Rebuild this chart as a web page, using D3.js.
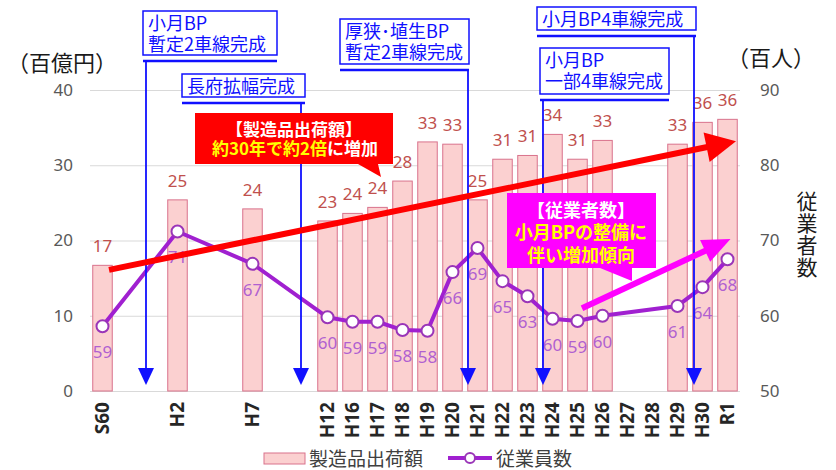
<!DOCTYPE html>
<html>
<head>
<meta charset="utf-8">
<script src="https://cdn.jsdelivr.net/npm/d3@7"></script>
<style>
    body { margin: 0; background: #fff; }
    svg { font-family: 'Noto Sans CJK JP', 'Noto Sans', sans-serif; }
</style>
</head>
<body>
<div id="chart"></div>
<script>
// categories (blank slots keep the uneven year spacing of the original)
const categories = ['S60', '', '', 'H2', '', '', 'H7', '', '', 'H12', 'H16', 'H17', 'H18', 'H19', 'H20',
    'H21', 'H22', 'H23', 'H24', 'H25', 'H26', 'H27', 'H28', 'H29', 'H30', 'R1'];

// 製造品出荷額 (百億円)
const shipments = [16.7, null, null, 25.4, null, null, 24.2, null, null, 22.6, 23.6, 24.4, 27.9, 33.1, 32.8,
    25.4, 30.8, 31.3, 34.1, 30.8, 33.3, null, null, 32.8, 35.7, 36.1];

// 従業員数 (百人)
const employees = [58.6, null, null, 71.2, null, null, 66.9, null, null, 59.8, 59.2, 59.2, 58.1, 58.0, 65.8,
    69.0, 64.6, 62.6, 59.6, 59.3, 60.0, null, null, 61.3, 63.8, 67.5];

const leftTicks = [0, 10, 20, 30, 40];
const rightTicks = [50, 60, 70, 80, 90];

// road milestones: label lines and where the arrow drops (slot index)
const milestones = [
    { lines: ['小月BP', '暫定2車線完成'], at: 1.74 },
    { lines: ['長府拡幅完成'], at: 7.94 },
    { lines: ['厚狭･埴生BP', '暫定2車線完成'], at: 14.62 },
    { lines: ['小月BP4車線完成'], at: 23.66 },
    { lines: ['小月BP', '一部4車線完成'], at: 17.62 }
];
// box layout for each milestone [x, y, w, h]
const milestoneBoxes = [[143, 11, 134, 44], [182, 74, 123, 23], [340, 19, 129, 45], [537, 7, 159, 23], [540, 48, 129, 46]];

// trend arrows: [slot, value] pairs
const shipTrend = [[0.26, 16.1], [25.34, 33.2]];   // left axis
const empTrend = [[19.18, 61.0], [25.12, 70.2]];    // right axis

// ******************************* //
// SETUP
// ******************************* //
const W = 836, H = 470;
const svg = d3.select('#chart').append('svg').attr('width', W).attr('height', H);

const x = d3.scaleBand()
    .domain(d3.range(categories.length))
    .range([90, 740])
    .paddingInner(0.22)
    .paddingOuter(0.11);
const xi = d3.scaleLinear().domain([-0.5, categories.length - 0.5]).range([90, 740]);
const yL = d3.scaleLinear().domain([0, 40]).range([391, 90]);
const yR = d3.scaleLinear().domain([50, 90]).range([391, 90]);

// GRID
svg.append('g')
    .attr('transform', 'translate(90,0)')
    .call(d3.axisLeft(yL).tickValues(leftTicks).tickSize(-650).tickFormat(''))
    .call(g => g.select('.domain').remove())
    .call(g => g.selectAll('line').attr('stroke', '#d9d9d9'));

// LEFT AXIS
svg.append('g')
    .attr('transform', 'translate(90,0)')
    .call(d3.axisLeft(yL).tickValues(leftTicks).tickSize(0).tickPadding(17))
    .call(g => g.select('.domain').remove())
    .call(g => g.selectAll('text').attr('font-size', 17).attr('fill', '#595959').attr('font-family', "'Noto Sans', sans-serif"));

// RIGHT AXIS
svg.append('g')
    .attr('transform', 'translate(740,0)')
    .call(d3.axisRight(yR).tickValues(rightTicks).tickSize(0).tickPadding(20))
    .call(g => g.select('.domain').remove())
    .call(g => g.selectAll('text').attr('font-size', 17).attr('fill', '#595959').attr('font-family', "'Noto Sans', sans-serif"));

// X AXIS
svg.append('g')
    .attr('transform', 'translate(0,391)')
    .call(d3.axisBottom(x).tickSize(0).tickFormat(i => categories[i]))
    .call(g => g.select('.domain').remove())
    .call(g => g.selectAll('text')
        .attr('transform', 'rotate(-90)')
        .attr('text-anchor', 'end')
        .attr('x', -11).attr('y', 0).attr('dy', '0.35em')
        .attr('font-size', 19).attr('font-weight', 'bold').attr('fill', '#262626')
        .attr('font-family', "'Liberation Sans Narrow', 'Noto Sans', sans-serif"));

// AXIS TITLES
svg.append('text').attr('x', 7).attr('y', 71).attr('font-size', 22).attr('fill', '#1a1a1a').text('（百億円）');
svg.append('text').attr('x', 727).attr('y', 66).attr('font-size', 22).attr('fill', '#1a1a1a').text('（百人）');
svg.append('text')
    .attr('x', 807).attr('y', 235)
    .attr('font-size', 21).attr('fill', '#1a1a1a').attr('text-anchor', 'middle')
    .style('writing-mode', 'vertical-rl').style('text-orientation', 'upright')
    .attr('letter-spacing', 1)
    .text('従業者数');

// BARS
const barData = shipments.map((v, i) => ({ i, v })).filter(d => d.v !== null);
svg.append('g').selectAll('rect').data(barData).join('rect')
    .attr('x', d => x(d.i)).attr('width', x.bandwidth())
    .attr('y', d => yL(d.v)).attr('height', d => yL(0) - yL(d.v))
    .attr('fill', '#fbd0d0').attr('stroke', '#d9728c').attr('stroke-width', 1);

svg.append('g').selectAll('text').data(barData).join('text')
    .attr('x', d => x(d.i) + x.bandwidth() / 2).attr('y', d => yL(d.v) - 13)
    .attr('text-anchor', 'middle').attr('font-size', 17).attr('fill', '#c0504d')
    .attr('font-family', "'Noto Sans', sans-serif")
    .text(d => d3.format('.0f')(d.v));

// LINE
const empData = employees.map((v, i) => ({ i, v })).filter(d => d.v !== null);
const line = d3.line().x(d => x(d.i) + x.bandwidth() / 2).y(d => yR(d.v));
svg.append('path').datum(empData).attr('d', line)
    .attr('fill', 'none').attr('stroke', '#a020d0').attr('stroke-width', 4).attr('stroke-linejoin', 'round');
svg.append('g').selectAll('circle').data(empData).join('circle')
    .attr('cx', d => x(d.i) + x.bandwidth() / 2).attr('cy', d => yR(d.v)).attr('r', 6)
    .attr('fill', '#fff').attr('stroke', '#9a35b8').attr('stroke-width', 2);
svg.append('g').selectAll('text').data(empData).join('text')
    .attr('x', d => x(d.i) + x.bandwidth() / 2).attr('y', d => yR(d.v) + 32)
    .attr('text-anchor', 'middle').attr('font-size', 17).attr('fill', '#b060d0')
    .attr('font-family', "'Noto Sans', sans-serif")
    .text(d => d3.format('.0f')(d.v));

// MILESTONE CALLOUTS
const blue = '#1010ff';
milestones.forEach((m, k) => {
    const [bx, by, bw, bh] = milestoneBoxes[k];
    const g = svg.append('g');
    g.append('rect').attr('x', bx).attr('y', by).attr('width', bw).attr('height', bh)
        .attr('fill', '#fff').attr('stroke', blue).attr('stroke-width', 1.5);
    m.lines.forEach((t, j) => {
        g.append('text').attr('x', bx + 5).attr('y', by + 19 + j * 21)
            .attr('font-size', 18).attr('fill', blue).text(t);
    });
    const ly = by + bh + 6;
    const ax = xi(m.at);
    g.append('line').attr('x1', bx).attr('x2', bx + bw).attr('y1', ly).attr('y2', ly)
        .attr('stroke', blue).attr('stroke-width', 2.5);
    g.append('line').attr('x1', ax).attr('x2', ax).attr('y1', ly).attr('y2', 370)
        .attr('stroke', blue).attr('stroke-width', 1.8);
    g.append('path').attr('d', `M${ax - 8},368 L${ax + 8},368 L${ax},385 Z`).attr('fill', blue);
});

// TREND ARROWS
function arrow(p0, p1, color, width, len, half) {
    const dx = p1[0] - p0[0], dy = p1[1] - p0[1];
    const d = Math.hypot(dx, dy), ux = dx / d, uy = dy / d;
    const bx = p1[0] - ux * len, by = p1[1] - uy * len;
    svg.append('line').attr('x1', p0[0]).attr('y1', p0[1]).attr('x2', bx + ux * 2).attr('y2', by + uy * 2)
        .attr('stroke', color).attr('stroke-width', width);
    svg.append('path')
        .attr('d', `M${p1[0]},${p1[1]} L${bx - uy * half},${by + ux * half} L${bx + uy * half},${by - ux * half} Z`)
        .attr('fill', color);
}
arrow([xi(shipTrend[0][0]), yL(shipTrend[0][1])], [xi(shipTrend[1][0]), yL(shipTrend[1][1])], '#ff0000', 6, 30, 15);

// RED CALLOUT
svg.append('path').attr('d', 'M195,113 H393 V164 H378 L381,177 L358,164 H195 Z').attr('fill', '#ff0000');
const red = svg.append('g').attr('font-size', 17).attr('font-weight', 'bold').attr('text-anchor', 'middle');
red.append('text').attr('x', 294).attr('y', 136).attr('fill', '#fff').text('【製造品出荷額】');
const r2 = red.append('text').attr('x', 295).attr('y', 155);
r2.append('tspan').attr('fill', '#ffff00').text('約30年で約2倍');
r2.append('tspan').attr('fill', '#fff').text('に増加');

// MAGENTA CALLOUT
svg.append('path').attr('d', 'M507,193 H656 V268 H632 L632,281 L600,268 H507 Z').attr('fill', '#ff00ff');
arrow([xi(empTrend[0][0]), yR(empTrend[0][1])], [xi(empTrend[1][0]), yR(empTrend[1][1])], '#ff00ff', 6, 28, 12);
const mg = svg.append('g').attr('font-size', 18).attr('font-weight', 'bold').attr('text-anchor', 'middle');
mg.append('text').attr('x', 581).attr('y', 217).attr('fill', '#fff').text('【従業者数】');
mg.append('text').attr('x', 581).attr('y', 239).attr('fill', '#ffff00').text('小月BPの整備に');
mg.append('text').attr('x', 581).attr('y', 262).attr('fill', '#ffff00').text('伴い増加傾向');

// LEGEND
const lg = svg.append('g');
lg.append('rect').attr('x', 264).attr('y', 453).attr('width', 41).attr('height', 11)
    .attr('fill', '#fbd0d0').attr('stroke', '#d9728c');
lg.append('text').attr('x', 309).attr('y', 466).attr('font-size', 19).attr('fill', '#404040').text('製造品出荷額');
lg.append('line').attr('x1', 448).attr('x2', 492).attr('y1', 458).attr('y2', 458)
    .attr('stroke', '#a020d0').attr('stroke-width', 4);
lg.append('circle').attr('cx', 470).attr('cy', 458).attr('r', 5).attr('fill', '#fff')
    .attr('stroke', '#9a35b8').attr('stroke-width', 2);
lg.append('text').attr('x', 496).attr('y', 466).attr('font-size', 19).attr('fill', '#404040').text('従業員数');
</script>
</body>
</html>
